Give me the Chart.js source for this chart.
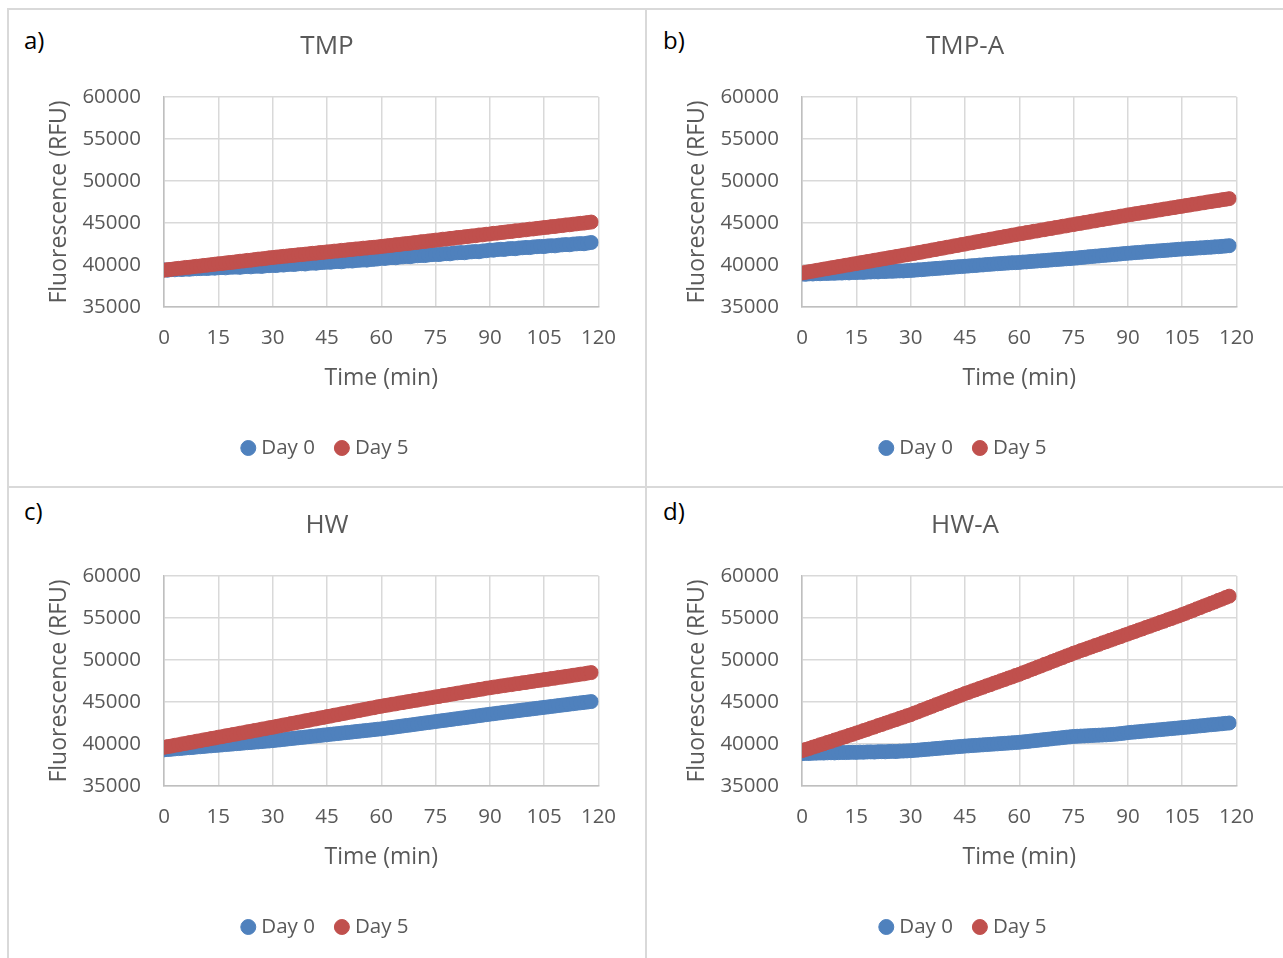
<!DOCTYPE html>
<html>
<head>
<meta charset="utf-8">
<script src="https://cdn.jsdelivr.net/npm/chart.js@4"></script>
<style>
  html, body { margin: 0; padding: 0; background: #ffffff; }
  body { width: 1283px; height: 958px; position: relative; overflow: hidden; font-family: "Open Sans", sans-serif; }
  .panel { position: absolute; border-left: 2px solid #d9d9d9; border-top: 2px solid #d9d9d9; box-sizing: border-box; }
  .tag { position: absolute; font-size: 24px; line-height: 24px; color: #000; }
  canvas { position: absolute; }
</style>
</head>
<body>
<div class="panel" style="left:7px;top:8px;width:640px;height:480px;"></div>
<div class="panel" style="left:645px;top:8px;width:640px;height:480px;"></div>
<div class="panel" style="left:7px;top:486px;width:640px;height:480px;"></div>
<div class="panel" style="left:645px;top:486px;width:640px;height:480px;"></div>

<div class="tag" style="left:24px;top:28px;">a)</div>
<div class="tag" style="left:663px;top:28px;">b)</div>
<div class="tag" style="left:24px;top:499px;">c)</div>
<div class="tag" style="left:663px;top:499px;">d)</div>

<canvas id="cA" width="636" height="476" style="left:9px;top:10px;"></canvas>
<canvas id="cB" width="636" height="476" style="left:647px;top:10px;"></canvas>
<canvas id="cC" width="636" height="476" style="left:9px;top:489px;"></canvas>
<canvas id="cD" width="636" height="476" style="left:647px;top:489px;"></canvas>

<script>
// Sampling times (min)
const timeMin = [0,1,2,3,4,5,6,7,8,9,10,11,12,13,14,15,16,17,18,19,20,21,22,23,24,25,26,27,28,29,
  30,31,32,33,34,35,36,37,38,39,40,41,42,43,44,45,46,47,48,49,50,51,52,53,54,55,56,57,58,59,
  60,61,62,63,64,65,66,67,68,69,70,71,72,73,74,75,76,77,78,79,80,81,82,83,84,85,86,87,88,89,
  90,91,92,93,94,95,96,97,98,99,100,101,102,103,104,105,106,107,108,109,110,111,112,113,114,115,116,117,118];

// TMP, fluorescence (RFU)
const tmpDay0 = [39420,39380,39450,39430,39480,39460,39510,39490,39540,39560,
  39570,39600,39580,39640,39620,39670,39690,39660,39720,39740,
  39750,39720,39790,39810,39780,39840,39860,39830,39900,39920,
  39950,39930,40010,39990,40050,40080,40060,40130,40150,40120,
  40200,40230,40210,40280,40300,40340,40320,40390,40410,40380,
  40460,40490,40470,40540,40560,40600,40580,40650,40680,40720,
  40800,40780,40850,40880,40860,40940,40970,41010,40990,41070,
  41100,41140,41120,41190,41230,41260,41240,41320,41350,41330,
  41420,41450,41480,41460,41540,41570,41600,41580,41670,41700,
  41780,41760,41830,41870,41850,41930,41960,41940,42020,42050,
  42090,42070,42150,42180,42210,42190,42270,42300,42280,42360,
  42400,42430,42410,42490,42520,42550,42530,42610,42680];
const tmpDay5 = [39380,39450,39480,39550,39600,39640,39710,39730,39790,39850,
  39880,39950,39980,40040,40090,40150,40170,40240,40290,40320,
  40390,40450,40480,40550,40570,40640,40700,40730,40780,40850,
  40890,40940,40980,41030,41070,41120,41150,41210,41240,41290,
  41330,41390,41410,41480,41500,41560,41590,41650,41670,41740,
  41760,41830,41850,41910,41930,42000,42020,42080,42110,42150,
  42210,42250,42310,42340,42420,42440,42510,42550,42590,42660,
  42690,42770,42790,42860,42900,42960,42990,43070,43090,43160,
  43190,43270,43290,43360,43400,43460,43490,43570,43590,43660,
  43690,43770,43790,43860,43900,43960,43990,44070,44090,44160,
  44190,44270,44290,44360,44400,44460,44490,44570,44590,44660,
  44690,44770,44790,44860,44900,44960,44990,45060,45110];

// TMP-A
const tmpaDay0 = [38920,38890,38950,38930,38970,38960,39000,38990,39020,39010,
  39050,39040,39080,39060,39110,39100,39130,39120,39160,39170,
  39190,39180,39230,39220,39260,39250,39280,39300,39290,39330,
  39350,39380,39420,39440,39480,39520,39550,39590,39610,39650,
  39680,39720,39750,39790,39810,39850,39880,39920,39940,39990,
  40010,40060,40080,40120,40150,40180,40210,40240,40270,40280,
  40300,40350,40370,40410,40440,40480,40500,40540,40570,40610,
  40640,40670,40700,40740,40760,40800,40840,40890,40920,40970,
  41010,41050,41080,41130,41160,41200,41240,41280,41320,41360,
  41400,41430,41470,41500,41530,41570,41600,41630,41670,41700,
  41730,41760,41800,41830,41870,41900,41930,41950,41980,42010,
  42040,42060,42100,42120,42160,42180,42220,42260,42300];
const tmpaDay5 = [39050,39120,39210,39270,39360,39420,39510,39570,39660,39720,
  39810,39870,39960,40020,40110,40170,40260,40320,40410,40470,
  40560,40620,40710,40770,40860,40920,41010,41070,41160,41220,
  41310,41370,41470,41530,41630,41690,41790,41850,41950,42010,
  42110,42170,42270,42330,42430,42490,42590,42650,42750,42810,
  42910,42970,43070,43130,43230,43290,43390,43450,43550,43610,
  43710,43760,43860,43910,44010,44060,44160,44210,44310,44360,
  44460,44510,44610,44660,44760,44810,44910,44960,45060,45110,
  45210,45260,45360,45410,45510,45560,45660,45710,45810,45860,
  45960,46010,46100,46150,46240,46290,46380,46430,46520,46570,
  46660,46710,46800,46850,46940,46990,47080,47130,47220,47270,
  47360,47410,47500,47550,47630,47680,47770,47820,47900];

// HW
const hwDay0 = [39300,39340,39370,39420,39450,39480,39530,39560,39590,39640,
  39670,39710,39750,39780,39820,39850,39890,39930,39960,40000,
  40040,40070,40110,40150,40180,40220,40250,40290,40330,40360,
  40400,40450,40490,40540,40590,40640,40680,40730,40780,40820,
  40870,40920,40960,41010,41060,41100,41150,41200,41240,41290,
  41340,41380,41430,41480,41520,41570,41620,41660,41710,41760,
  41800,41860,41920,41970,42030,42090,42150,42210,42260,42320,
  42380,42440,42500,42550,42610,42670,42730,42790,42840,42900,
  42960,43020,43080,43130,43190,43250,43310,43370,43430,43490,
  43550,43600,43660,43710,43770,43820,43870,43930,43980,44040,
  44090,44140,44200,44250,44310,44360,44410,44470,44520,44580,
  44630,44680,44740,44790,44850,44900,44950,45000,45050];
const hwDay5 = [39600,39690,39750,39850,39910,40010,40070,40170,40230,40330,
  40390,40490,40550,40650,40710,40810,40870,40970,41030,41130,
  41190,41290,41350,41450,41510,41610,41670,41770,41830,41930,
  41990,42090,42160,42260,42320,42430,42490,42590,42660,42760,
  42820,42930,42990,43090,43160,43260,43320,43430,43490,43590,
  43660,43760,43820,43930,43990,44090,44160,44260,44320,44430,
  44490,44580,44640,44730,44780,44880,44930,45020,45080,45170,
  45220,45320,45370,45460,45520,45610,45660,45760,45810,45900,
  45960,46050,46100,46200,46250,46340,46400,46490,46540,46640,
  46690,46770,46820,46900,46950,47030,47070,47160,47200,47290,
  47330,47410,47460,47540,47590,47670,47710,47800,47840,47930,
  47970,48050,48100,48180,48230,48310,48350,48440,48500];

// HW-A
const hwaDay0 = [38850,38880,38870,38900,38910,38930,38920,38950,38960,38940,
  38970,38990,38980,39000,39010,39000,39030,39020,39050,39060,
  39040,39080,39090,39070,39110,39120,39100,39150,39160,39180,
  39200,39240,39270,39310,39350,39380,39420,39460,39490,39530,
  39570,39600,39640,39680,39710,39750,39780,39810,39840,39870,
  39900,39930,39960,39990,40020,40050,40080,40110,40140,40170,
  40200,40250,40290,40340,40390,40430,40480,40530,40570,40620,
  40670,40710,40760,40810,40850,40900,40920,40940,40960,40980,
  41010,41030,41050,41070,41090,41120,41150,41190,41240,41290,
  41350,41390,41430,41470,41510,41550,41590,41630,41670,41710,
  41750,41790,41830,41870,41910,41950,41990,42030,42080,42120,
  42160,42200,42250,42290,42330,42370,42410,42460,42500];
const hwaDay5 = [39200,39350,39470,39630,39750,39910,40030,40190,40310,40470,
  40590,40750,40870,41030,41150,41310,41440,41600,41730,41900,
  42020,42190,42320,42480,42610,42780,42900,43070,43200,43360,
  43490,43680,43820,44010,44160,44340,44490,44680,44820,45010,
  45160,45340,45490,45680,45820,46010,46140,46320,46450,46620,
  46760,46930,47060,47240,47370,47540,47680,47850,47980,48160,
  48290,48480,48620,48810,48960,49140,49290,49480,49620,49810,
  49960,50140,50290,50480,50620,50810,50940,51120,51250,51420,
  51560,51730,51860,52040,52170,52340,52480,52650,52780,52960,
  53090,53260,53400,53570,53700,53880,54010,54180,54320,54490,
  54620,54800,54930,55100,55240,55410,55560,55750,55900,56090,
  56240,56430,56580,56760,56910,57100,57250,57440,57600];

const seriesNames = ['Day 0', 'Day 5'];
const panelTitles = ['TMP', 'TMP-A', 'HW', 'HW-A'];
const xTickValues = [0, 15, 30, 45, 60, 75, 90, 105, 120];
const yTickValues = [35000, 40000, 45000, 50000, 55000, 60000];

const FONT = '"Open Sans", sans-serif';
const TEXT = '#595959';
const BLUE = '#4f81bd';
const RED = '#c0504d';

function points(vals) {
  return timeMin.map((t, i) => ({ x: t, y: vals[i] }));
}

function makePanel(id, title, day0, day5) {
  new Chart(document.getElementById(id), {
    type: 'scatter',
    data: {
      datasets: [
        // Day 5 is painted over Day 0 (lower order draws on top)
        { label: seriesNames[0], data: points(day0), backgroundColor: BLUE, borderColor: BLUE,
          pointRadius: 7, pointBorderWidth: 1, pointHoverRadius: 7, order: 2 },
        { label: seriesNames[1], data: points(day5), backgroundColor: RED, borderColor: RED,
          pointRadius: 7, pointBorderWidth: 1, pointHoverRadius: 7, order: 1 }
      ]
    },
    options: {
      responsive: false,
      animation: false,
      devicePixelRatio: 1,
      layout: { padding: { left: 0, right: 0, top: 0, bottom: 17.75 } },
      plugins: {
        title: {
          display: true, text: title, color: TEXT,
          font: { family: FONT, size: 26, weight: 'normal' },
          padding: { top: 21.1, bottom: 34.7 }
        },
        legend: {
          position: 'bottom',
          labels: {
            usePointStyle: true, pointStyle: 'circle',
            boxWidth: 5.5, boxHeight: 10.6, padding: 24.25,
            color: TEXT, font: { family: FONT, size: 20.5 },
            sort: (a, b) => a.datasetIndex - b.datasetIndex
          }
        },
        tooltip: { enabled: false }
      },
      scales: {
        x: {
          type: 'linear', position: 'bottom', min: 0, max: 120,
          afterBuildTicks: s => { s.ticks = xTickValues.map(v => ({ value: v })); },
          afterFit: s => { s.height = 106.5; },
          ticks: { color: TEXT, font: { family: FONT, size: 20.5 }, padding: 18.7,
                   maxRotation: 0, autoSkip: false, callback: v => String(v) },
          grid: { color: '#d9d9d9', lineWidth: 1.5, drawTicks: false },
          border: { color: '#bfbfbf', width: 1.5 },
          title: { display: true, text: 'Time (min)', color: TEXT,
                   font: { family: FONT, size: 23 }, padding: { top: 0, bottom: 21.7 } }
        },
        y: {
          type: 'linear', position: 'left', min: 35000, max: 60000,
          afterBuildTicks: s => { s.ticks = yTickValues.map(v => ({ value: v })); },
          afterFit: s => { s.width = 155; },
          ticks: { color: TEXT, font: { family: FONT, size: 20.5 }, padding: 23,
                   autoSkip: false, callback: v => String(v) },
          grid: { color: '#d9d9d9', lineWidth: 1.5, drawTicks: false },
          border: { color: '#bfbfbf', width: 1.5 },
          title: { display: true, text: 'Fluorescence (RFU)', color: TEXT,
                   font: { family: FONT, size: 23 }, padding: { top: 36.2, bottom: 0 } }
        },
        rightGap: {
          type: 'linear', position: 'right', display: true,
          afterFit: s => { s.width = 46.5; },
          ticks: { display: false },
          grid: { display: false, drawTicks: false },
          border: { display: false }
        }
      }
    }
  });
}

makePanel('cA', panelTitles[0], tmpDay0, tmpDay5);
makePanel('cB', panelTitles[1], tmpaDay0, tmpaDay5);
makePanel('cC', panelTitles[2], hwDay0, hwDay5);
makePanel('cD', panelTitles[3], hwaDay0, hwaDay5);
</script>
</body>
</html>
